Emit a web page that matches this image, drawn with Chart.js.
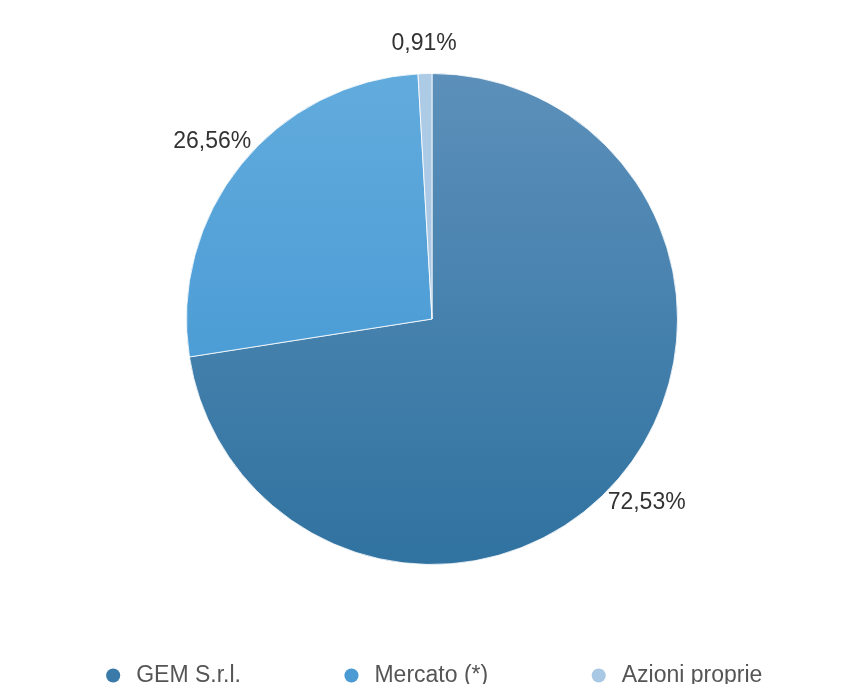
<!DOCTYPE html>
<html>
<head>
<meta charset="utf-8">
<script src="https://cdn.jsdelivr.net/npm/chart.js@4/dist/chart.umd.min.js"></script>
<style>
html,body{margin:0;padding:0;background:#fff;overflow:hidden;}
#wrap{position:relative;width:864px;height:699px;}
</style>
</head>
<body>
<div id="wrap"><canvas id="c"></canvas></div>
<script>
const categories = ["GEM S.r.l.", "Mercato (*)", "Azioni proprie"];
const shares = [72.53, 26.56, 0.91];
const labelTexts = ["72,53%", "26,56%", "0,91%"];
const topColors = ["#5c90ba", "#62abdd", "#aecbe6"];
const bottomColors = ["#3072a0", "#3c92d0", "#a6c6e3"];
const legendColors = ["#3a7aa8", "#4a9ad4", "#a9c8e4"];

function grad(ctx, i) {
  const chart = ctx.chart;
  const a = chart.chartArea;
  if (!a) return legendColors[i];
  const g = chart.ctx.createLinearGradient(0, a.top, 0, a.bottom);
  g.addColorStop(0, topColors[i]);
  g.addColorStop(1, bottomColors[i]);
  return g;
}

const outLabels = {
  id: 'outLabels',
  afterDatasetsDraw(chart) {
    const ctx = chart.ctx;
    const meta = chart.getDatasetMeta(0);
    ctx.save();
    ctx.font = '23px "Liberation Sans", Arial, sans-serif';
    ctx.fillStyle = '#333';
    ctx.textAlign = 'center';
    ctx.textBaseline = 'middle';
    meta.data.forEach((arc, i) => {
      const mid = (arc.startAngle + arc.endAngle) / 2;
      const r = arc.outerRadius + (i === 2 ? 30 : 37);
      const x = arc.x + Math.cos(mid) * r;
      const y = arc.y + Math.sin(mid) * r;
      ctx.fillText(labelTexts[i], x, y);
    });
    ctx.restore();
  }
};

new Chart(document.getElementById('c'), {
  type: 'pie',
  data: {
    labels: categories,
    datasets: [{
      data: shares,
      backgroundColor: (ctx) => grad(ctx, ctx.dataIndex),
      borderColor: 'rgba(255,255,255,0.8)',
      borderWidth: 1
    }]
  },
  options: {
    responsive: true,
    maintainAspectRatio: false,
    animation: false,
    layout: { padding: { top: 73, bottom: 2, left: 0, right: 0 } },
    plugins: {
      tooltip: { enabled: false },
      legend: {
        position: 'bottom',
        labels: {
          usePointStyle: true,
          pointStyle: 'circle',
          boxWidth: 25,
          boxHeight: 10,
          padding: 99,
          color: '#555',
          font: { size: 23, family: '"Liberation Sans", Arial, sans-serif' },
          generateLabels(chart) {
            return categories.map((c, i) => ({
              text: c,
              fillStyle: legendColors[i],
              strokeStyle: legendColors[i],
              lineWidth: 0,
              pointStyle: 'circle',
              hidden: false,
              index: i,
              fontColor: '#555'
            }));
          }
        }
      }
    }
  },
  plugins: [outLabels]
});
</script>
</body>
</html>
